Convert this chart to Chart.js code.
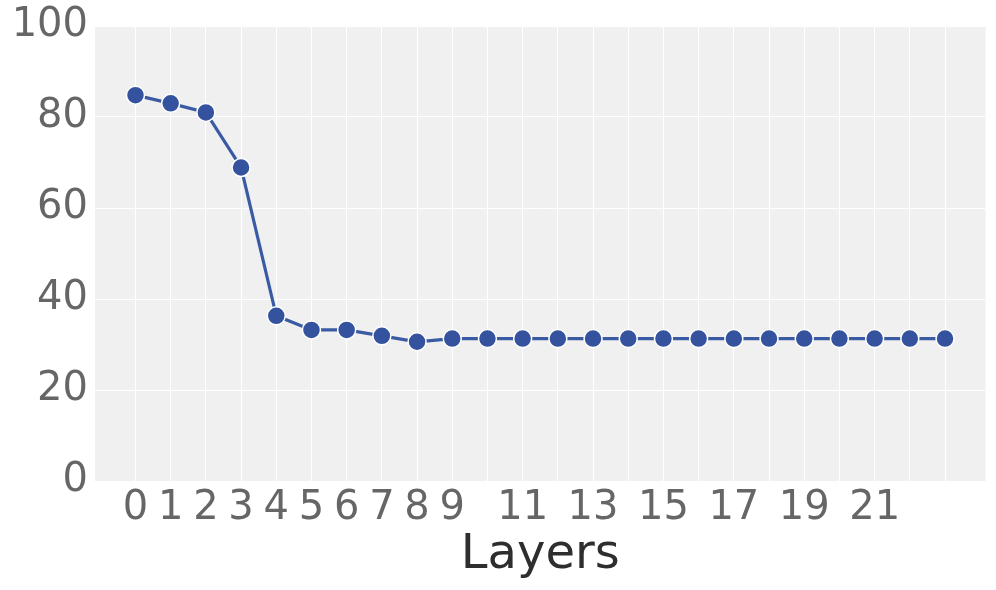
<!DOCTYPE html>
<html>
<head>
<meta charset="utf-8">
<script src="https://cdn.jsdelivr.net/npm/chart.js@4.4.1/dist/chart.umd.min.js"></script>
<style>
  html, body { margin: 0; padding: 0; background: #ffffff; }
  #wrap { width: 996px; height: 590px; position: relative; }
</style>
</head>
<body>
<div id="wrap"><canvas id="c" width="996" height="590"></canvas></div>
<script>
const layers = [0,1,2,3,4,5,6,7,8,9,10,11,12,13,14,15,16,17,18,19,20,21,22,23];
const values = [84.8,83.0,81.0,68.9,36.3,33.2,33.2,31.9,30.6,31.3,31.3,31.3,31.3,31.3,31.3,31.3,31.3,31.3,31.3,31.3,31.3,31.3,31.3,31.3];
const xTickLabels = ['0','1','2','3','4','5','6','7','8','9','','11','','13','','15','','17','','19','','21','',''];
const yTicks = [0,20,40,60,80,100];
const xTitle = 'Layers';

const bgPlugin = {
  id: 'plotBg',
  beforeDraw(chart) {
    const {ctx, chartArea} = chart;
    ctx.save();
    ctx.fillStyle = '#f0f0f0';
    ctx.fillRect(chartArea.left, chartArea.top, chartArea.right - chartArea.left, chartArea.bottom - chartArea.top);
    ctx.restore();
  }
};

new Chart(document.getElementById('c'), {
  type: 'line',
  data: {
    datasets: [{
      data: layers.map((l, i) => ({x: l, y: values[i]})),
      borderColor: '#3a5ba4',
      borderWidth: 3.2,
      backgroundColor: '#34529e',
      pointBackgroundColor: '#34529e',
      pointBorderColor: '#ffffff',
      pointBorderWidth: 1.5,
      pointRadius: 9,
      tension: 0
    }]
  },
  plugins: [bgPlugin],
  options: {
    responsive: false,
    animation: false,
    layout: { padding: { left: 0, right: 10, top: 26, bottom: 6 } },
    plugins: { legend: { display: false }, tooltip: { enabled: false } },
    scales: {
      x: {
        type: 'linear',
        min: -1.15,
        max: 24.15,
        afterBuildTicks(scale) { scale.ticks = layers.map(v => ({value: v})); },
        afterFit(scale) { scale.height = 103; scale.paddingLeft = 0; scale.paddingRight = 0; },
        grid: { color: '#ffffff', lineWidth: 1, drawTicks: false },
        border: { display: false },
        ticks: {
          autoSkip: false,
          maxRotation: 0,
          padding: 4,
          color: '#666666',
          font: { family: 'DejaVu Sans', size: 40 },
          callback: (v) => xTickLabels[layers.indexOf(v)] ?? ''
        },
        title: {
          display: true,
          text: xTitle,
          color: '#2e2e2e',
          font: { family: 'DejaVu Sans', size: 48 },
          padding: 0
        }
      },
      y: {
        min: 0,
        max: 100,
        afterBuildTicks(scale) { scale.ticks = yTicks.map(v => ({value: v})); },
        afterFit(scale) { scale.width = 95; scale.paddingTop = 0; scale.paddingBottom = 0; },
        grid: { color: '#ffffff', lineWidth: 1, drawTicks: false },
        border: { display: false },
        ticks: {
          padding: 7,
          color: '#666666',
          font: { family: 'DejaVu Sans', size: 40 }
        }
      }
    }
  }
});
</script>
</body>
</html>
